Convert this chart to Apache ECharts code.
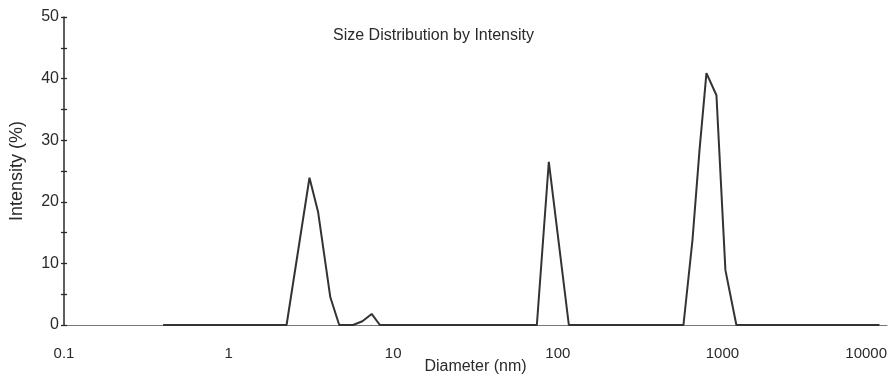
<!DOCTYPE html>
<html><head><meta charset="utf-8">
<script src="https://cdn.jsdelivr.net/npm/echarts@6/dist/echarts.min.js"></script>
<style>html,body{margin:0;padding:0;background:#fff}#c{width:890px;height:377px}</style>
</head><body><div id="c"></div>
<script>
const titleText = "Size Distribution by Intensity";
const xName = "Diameter (nm)";
const yName = "Intensity (%)";
const xTickLabels = ["0.1","1","10","100","1000","10000"];
const yTickLabels = ["0","10","20","30","40","50"];
const diameters = [0.4, 2.25, 3.1, 3.5, 4.15, 4.7, 5.7, 6.5, 7.4, 8.3, 74.6, 88.2, 116.7, 580, 658, 726, 800, 920, 1043, 1216, 9000];
const intensities = [0, 0, 23.9, 18.3, 4.5, 0, 0, 0.6, 1.8, 0, 0, 26.5, 0, 0, 13.8, 28.4, 40.9, 37.3, 8.9, 0, 0];

const font = "'Liberation Sans', Arial, sans-serif";
const ink = "#2a2a2a";
const gridBox = { left: 64, right: 3, top: 17, bottom: 52, containLabel: false, outerBoundsMode: 'none' };
const chart = echarts.init(document.getElementById('c'));
const xLabelMap = {};
xTickLabels.forEach(s => { xLabelMap[String(parseFloat(s))] = s; });
const yAxisBase = {
  type: 'value', min: 0, max: 50, interval: 10, position: 'left',
  splitLine: { show: false },
  minorTick: { show: true, splitNumber: 2, length: 3, lineStyle: { color: ink, width: 1.3 } },
  axisTick: { show: true, length: 3, inside: false, lineStyle: { color: ink, width: 1.3 } }
};
chart.setOption({
  animation: false,
  title: {
    text: titleText, left: 328, top: 23,
    textStyle: { fontFamily: font, fontSize: 16, fontWeight: 'normal', color: ink }
  },
  grid: [Object.assign({}, gridBox), Object.assign({}, gridBox)],
  xAxis: [{
    gridIndex: 0,
    type: 'log', logBase: 10, min: 0.1, max: 10000,
    name: xName, nameLocation: 'middle', nameGap: 34, nameMoveOverlap: false,
    nameTextStyle: { fontFamily: font, fontSize: 16, color: ink },
    axisLine: { lineStyle: { color: '#777', width: 1 } },
    axisTick: { show: false },
    minorTick: { show: false },
    splitLine: { show: false },
    axisLabel: {
      fontFamily: font, fontSize: 15, color: ink, margin: 21,
      alignMaxLabel: 'right',
      formatter: v => xLabelMap[String(v)] !== undefined ? xLabelMap[String(v)] : ''
    }
  }, {
    gridIndex: 1, type: 'log', logBase: 10, min: 0.1, max: 10000, show: false
  }],
  yAxis: [
    Object.assign({}, yAxisBase, {
      gridIndex: 0,
      name: yName, nameLocation: 'middle', nameGap: 38, nameMoveOverlap: false,
      nameTextStyle: { fontFamily: font, fontSize: 18, color: ink },
      axisLine: { show: true, lineStyle: { color: ink, width: 1.5 } },
      axisLabel: { fontFamily: font, fontSize: 16, color: ink, margin: 5,
        formatter: v => yTickLabels[Math.round(v / 10)] || '' }
    }),
    Object.assign({}, yAxisBase, {
      gridIndex: 1,
      offset: -3,
      axisLine: { show: false },
      axisLabel: { show: false }
    })
  ],
  series: [{
    type: 'line', xAxisIndex: 0, yAxisIndex: 0,
    data: diameters.map((d, i) => [d, intensities[i]]),
    showSymbol: false, smooth: false,
    lineStyle: { color: '#333', width: 2 }
  }, {
    type: 'line', xAxisIndex: 1, yAxisIndex: 1, data: [], showSymbol: false
  }]
});
</script></body></html>
